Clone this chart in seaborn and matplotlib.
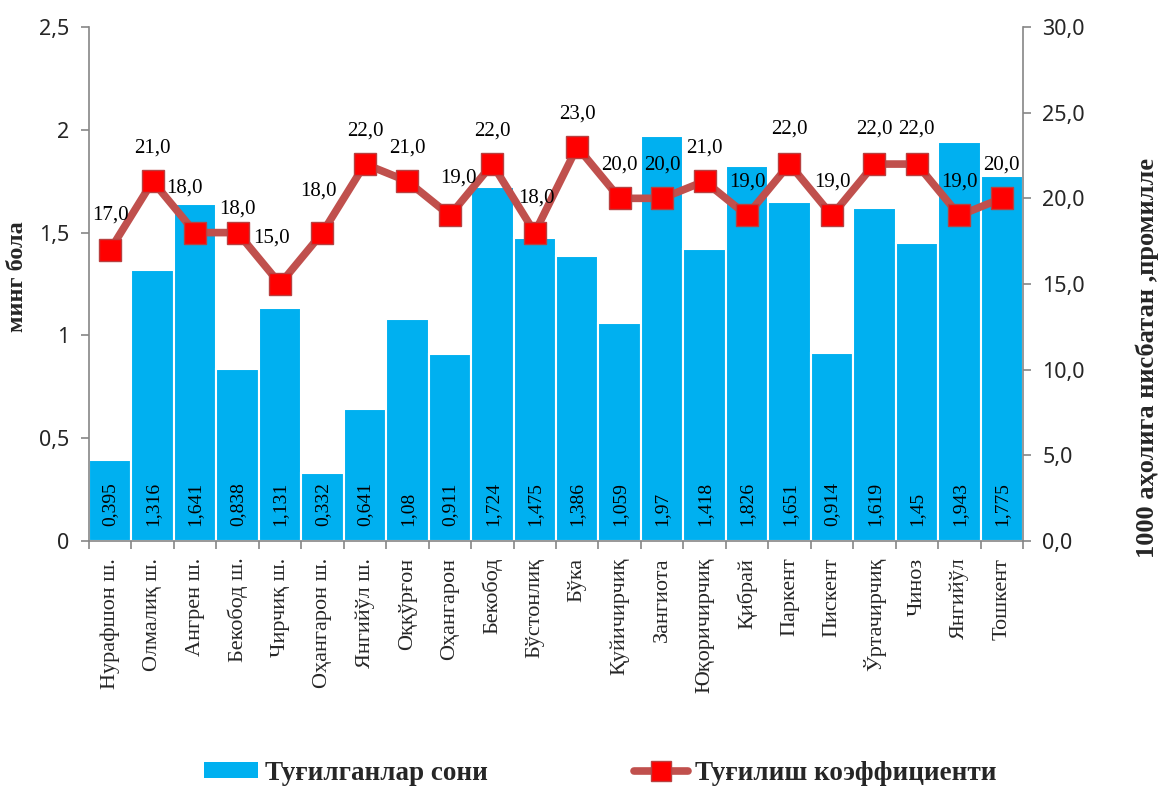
import numpy as np
import pandas as pd
import matplotlib
matplotlib.use("Agg")
import matplotlib.pyplot as plt
import seaborn as sns
from matplotlib.lines import Line2D
from matplotlib.patches import Patch
from matplotlib.ticker import FixedLocator

# ---- data ----
districts = ["Нурафшон ш.", "Олмалиқ ш.", "Ангрен ш.", "Бекобод ш.", "Чирчиқ ш.",
             "Оҳангарон ш.", "Янгийўл ш.", "Оққўрғон", "Оҳангарон", "Бекобод",
             "Бўстонлиқ", "Бўка", "Қуйичирчиқ", "Зангиота", "Юқоричирчиқ",
             "Қибрай", "Паркент", "Пискент", "Ўртачирчиқ", "Чиноз", "Янгийўл",
             "Тошкент"]
births = [0.395, 1.316, 1.641, 0.838, 1.131, 0.332, 0.641, 1.08, 0.911, 1.724,
          1.475, 1.386, 1.059, 1.97, 1.418, 1.826, 1.651, 0.914, 1.619, 1.45,
          1.943, 1.775]
birth_rate = [17.0, 21.0, 18.0, 18.0, 15.0, 18.0, 22.0, 21.0, 19.0, 22.0, 18.0,
              23.0, 20.0, 20.0, 21.0, 19.0, 22.0, 19.0, 22.0, 22.0, 19.0, 20.0]
births_labels = ["0,395", "1,316", "1,641", "0,838", "1,131", "0,332", "0,641",
                 "1,08", "0,911", "1,724", "1,475", "1,386", "1,059", "1,97",
                 "1,418", "1,826", "1,651", "0,914", "1,619", "1,45", "1,943",
                 "1,775"]
left_ticks = [0, 0.5, 1, 1.5, 2, 2.5]
left_tick_labels = ["0", "0,5", "1", "1,5", "2", "2,5"]
right_ticks = [0, 5, 10, 15, 20, 25, 30]
right_tick_labels = ["0,0", "5,0", "10,0", "15,0", "20,0", "25,0", "30,0"]
bar_name = "Туғилганлар сони"
line_name = "Туғилиш коэффициенти"
left_title = "минг бола"
right_title = "1000 аҳолига нисбатан ,промилле"

# label placement nudges (points) for line value labels
label_dx = [0, 0, -8, 0, -6, -3, 0, 0, 6, 0, 1, 0, 0, 0, 0, 0, 0, 0, 0, 0, 0, 0]
label_dy = [25, 24, 32, 17, 33, 30, 24, 24, 27, 24, 25, 24, 24, 24, 24, 24, 25, 24, 25, 25, 24, 24]

df = pd.DataFrame({"district": districts, "births": births, "rate": birth_rate})

sns.set_theme(style="white")
serif = ["Liberation Serif", "DejaVu Serif"]
sans = ["Noto Sans", "DejaVu Sans"]
plt.rcParams["font.family"] = serif

BAR = "#00B0F0"
LINE = "#C0504D"
AXC = "#868686"

W, H = 1161, 789
fig = plt.figure(figsize=(W / 100, H / 100), dpi=100)
ax = fig.add_axes([89 / W, 1 - 541 / H, (1023 - 89) / W, (541 - 27) / H])

sns.barplot(data=df, x="district", y="births", order=districts, ax=ax,
            color=BAR, saturation=1, width=1.0, edgecolor="white", linewidth=1.5)
ax.set_xlim(-0.5, len(districts) - 0.5)
ax.set_ylim(0, 2.5)

ax2 = ax.twinx()
x_pos = np.arange(len(districts))
sns.lineplot(x=x_pos, y=birth_rate, ax=ax2, color=LINE, linewidth=5.5,
             marker="s", markersize=16, markerfacecolor="#FF0000",
             markeredgecolor="#B84040", markeredgewidth=1.0)
ax2.set_ylim(0, 30)
ax2.set_xlim(-0.5, len(districts) - 0.5)

# bar labels
for i, lab in enumerate(births_labels):
    ax.annotate(lab, xy=(i, 0), xytext=(0, 11), textcoords="offset points",
                rotation=90, ha="center", va="bottom", fontsize=14,
                family=serif, color="black")

# line labels
for i, v in enumerate(birth_rate):
    ax2.annotate(f"{v:.1f}".replace(".", ","), xy=(i, v),
                 xytext=(label_dx[i], label_dy[i]), textcoords="offset points",
                 ha="center", va="center", fontsize=15, family=serif, color="black")

# axes styling
for a in (ax, ax2):
    for s in a.spines.values():
        s.set_color(AXC)
        s.set_linewidth(1.2)
    a.spines["top"].set_visible(False)
ax.spines["right"].set_visible(False)
ax2.spines["left"].set_visible(False)
ax2.spines["bottom"].set_visible(False)

ax.set_yticks(left_ticks)
ax.set_yticklabels(left_tick_labels, family=sans, fontsize=15.5)
ax2.set_yticks(right_ticks)
ax2.set_yticklabels(right_tick_labels, family=sans, fontsize=15.5)
ax.tick_params(axis="y", direction="out", length=6, width=1.2, color=AXC, pad=8, left=True)
ax2.tick_params(axis="y", direction="out", length=6, width=1.2, color=AXC, pad=8, right=True)

ax.set_xticks(x_pos)
ax.set_xticklabels(districts, rotation=90, fontsize=16, family=serif)
ax.tick_params(axis="x", which="major", length=0, pad=12)
ax.xaxis.set_minor_locator(FixedLocator(np.arange(len(districts) + 1) - 0.5))
ax.tick_params(axis="x", which="minor", direction="out", length=6, width=1.2,
               color=AXC, bottom=True)
ax.set_xlabel("")
ax.set_ylabel("")
ax2.set_ylabel("")

fig.text(18 / W, 1 - 277 / H, left_title, rotation=90, ha="center", va="center",
         fontsize=17.5, fontweight="bold", family=serif)
fig.text(1147 / W, 1 - 358 / H, right_title, rotation=90, ha="center", va="center",
         fontsize=19, fontweight="bold", family=serif)

# legend
handles = [Patch(facecolor=BAR, edgecolor="none"),
           Line2D([0], [0], color=LINE, linewidth=5.5, marker="s", markersize=14,
                  markerfacecolor="#FF0000", markeredgecolor="#B84040")]
fig.legend(handles, [bar_name, line_name], loc="center",
           bbox_to_anchor=(600 / W, 1 - 773 / H), ncol=2, frameon=False,
           prop={"family": serif, "weight": "bold", "size": 19.5},
           handlelength=2.0, handleheight=0.5, handletextpad=0.25,
           columnspacing=5.4)

fig.savefig("out.png", dpi=100, facecolor="white")
